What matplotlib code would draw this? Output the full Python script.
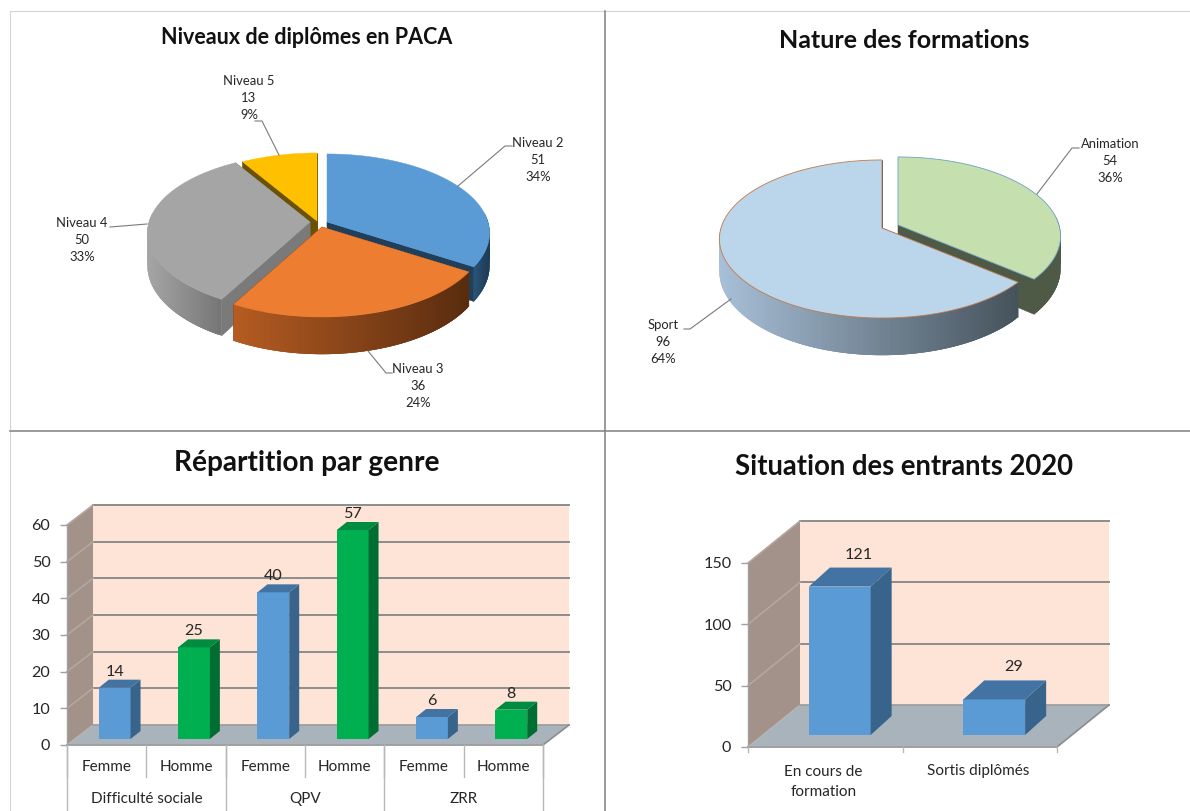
import numpy as np
import matplotlib
matplotlib.use("Agg")
import matplotlib.pyplot as plt
from matplotlib.patches import Polygon
from matplotlib.colors import to_rgb

plt.rcParams['font.family'] = ['Lato', 'DejaVu Sans']

# ---------- data ----------
pie1_labels = ["Niveau 2", "Niveau 3", "Niveau 4", "Niveau 5"]
pie1_values = [51, 36, 50, 13]
pie1_pcts = ["34%", "24%", "33%", "9%"]

pie2_labels = ["Animation", "Sport"]
pie2_values = [54, 96]
pie2_pcts = ["36%", "64%"]

genre_sub = ["Femme", "Homme", "Femme", "Homme", "Femme", "Homme"]
genre_groups = ["Difficulté sociale", "QPV", "ZRR"]
genre_values = [14, 25, 40, 57, 6, 8]

entrants_labels = ["En cours de\nformation", "Sortis diplômés"]
entrants_values = [121, 29]

W, H = 1190, 811
TXT = "#262626"
fig = plt.figure(figsize=(W / 100, H / 100), dpi=100, facecolor="white")
page = fig.add_axes([0, 0, 1, 1], zorder=1)
page.set_xlim(0, W)
page.set_ylim(H, 0)
page.axis("off")

# panel frame
page.plot([10, 1190], [11, 11], color="#d4d4d4", lw=0.8)
page.plot([10, 10], [11, 811], color="#d4d4d4", lw=0.8)
page.plot([605, 605], [11, 811], color="#7f7f7f", lw=1.1)
page.plot([10, 1190], [431, 431], color="#7f7f7f", lw=1.1)


def mix(c1, c2, t):
    a, b = np.array(to_rgb(c1)), np.array(to_rgb(c2))
    return tuple(a + (b - a) * t)


P, A, B, D = 0.139, 161.0, 77.5, 32.0


def proj(theta, r, apex, z=0.0):
    u, v = r * np.cos(theta), r * np.sin(theta)
    s = 1 / (1 + P * v)
    return np.column_stack([apex[0] + A * u * s,
                            apex[1] - B * v * s + z * s * np.ones_like(u)])


def draw_slice(start, end, apex, top, cut, wall, edge=None, z0=3):
    th = np.linspace(start, end, 160)          # clockwise, start > end
    rim = proj(th, 1.0, apex)
    low = proj(th, 1.0, apex, D)
    ap = np.array([apex], dtype=float)
    ap_low = ap + [0, D]
    # cut faces
    for i in (0, -1):
        page.add_patch(Polygon(np.vstack([ap, rim[i], low[i], ap_low]), closed=True,
                               fc=cut, ec=cut, lw=0.4, zorder=z0))
    # outer wall, shaded strip by strip; each strip overlaps the next to hide seams
    vis = np.where(np.sin(th) < 0.12)[0]
    if len(vis) > 1:
        xs = rim[vis, 0]
        x0, x1 = xs.min(), xs.max()
        for a_, i in enumerate(vis[:-1]):
            j = vis[min(a_ + 3, len(vis) - 1)]
            t = (rim[i, 0] - x0) / max(x1 - x0, 1)
            c = mix(wall[0], wall[1], t)
            page.add_patch(Polygon([rim[i], *rim[i + 1:j + 1], *low[i + 1:j + 1][::-1], low[i]],
                                   closed=True, fc=c, ec="none", lw=0, zorder=z0))
    page.add_patch(Polygon(np.vstack([ap, rim]), closed=True, fc=top,
                           ec=edge if edge else top, lw=0.6 if edge else 0.3, zorder=z0))


def slice_angles(values):
    f = np.cumsum([0] + list(values)) / sum(values)
    return np.pi / 2 - 2 * np.pi * f


def leader(pts):
    p = np.array(pts)
    page.plot(p[:, 0], p[:, 1], color="#7a7a7a", lw=0.8, zorder=8)


def pie_label(x, y, name, val, pct):
    page.text(x, y, f"{name}\n{val}\n{pct}", ha="center", va="center", fontsize=9.4,
              color=TXT, linespacing=1.5, zorder=9)


# ---------- pie 1 ----------
ang = slice_angles(pie1_values)
styles1 = [
    dict(apex=(327, 222), top="#5b9bd5", cut="#1f3f5b", wall=("#2a5578", "#1d3a55")),
    dict(apex=(322, 227), top="#ed7d31", cut="#5c2e10", wall=("#b65c22", "#592c0f")),
    dict(apex=(310, 222), top="#a5a5a5", cut="#7a7a7a", wall=("#a6a6a6", "#767676")),
    dict(apex=(317, 221), top="#ffc000", cut="#6b5100", wall=("#8a6800", "#6b5100")),
]
for k, z in zip([3, 0, 2, 1], [3, 4, 5, 6]):
    draw_slice(ang[k], ang[k + 1], z0=z, **styles1[k])

leader([(458, 186), (505, 146), (512, 146)])
leader([(368, 351), (386, 373), (392, 373)])
leader([(147, 224), (110, 227)])
leader([(279, 155), (262, 121), (255, 121)])
pos1 = [(538, 160), (418, 386), (82, 240), (249, 98)]
for (x, y), n, v, p in zip(pos1, pie1_labels, pie1_values, pie1_pcts):
    pie_label(x, y, n, v, p)

# ---------- pie 2 ----------
ang = slice_angles(pie2_values)
draw_slice(ang[0], ang[1], apex=(898, 225), top="#c5dfaf", cut="#4e5a45",
           wall=("#4e5a45", "#4e5a45"), edge="#6f9fc4", z0=3)
draw_slice(ang[1], ang[2], apex=(882, 228), top="#bbd5eb", cut="#4a5760",
           wall=("#a8c0d8", "#46535c"), edge="#c4794a", z0=4)
leader([(1037, 194), (1072, 148), (1079, 148)])
leader([(731, 299), (690, 329), (684, 329)])
pos2 = [(1110, 161), (663, 342)]
for (x, y), n, v, p in zip(pos2, pie2_labels, pie2_values, pie2_pcts):
    pie_label(x, y, n, v, p)


# ---------- 3-D bars ----------
def bar_panel(left, right, y0, ytop, ymax, ticks, values, colors, depth, off, bdepth, lab_dx, lab_dy):
    n = len(values)
    axb = fig.add_axes([left / W, 1 - y0 / H, (right - left) / W, (y0 - ytop) / H], zorder=2)
    axb.set_xlim(0, n)
    axb.set_ylim(0, ymax)
    axb.patch.set_alpha(0)
    for sp in axb.spines.values():
        sp.set_visible(False)
    px, py = n / (right - left), ymax / (y0 - ytop)
    dx, dy = depth[0] * px, depth[1] * py
    # walls and floor
    axb.add_patch(Polygon([(dx, dy), (n + dx, dy), (n + dx, ymax + dy), (dx, ymax + dy)],
                          fc="#fde4d6", ec="none", clip_on=False, zorder=1))
    axb.add_patch(Polygon([(0, 0), (dx, dy), (dx, ymax + dy), (0, ymax)],
                          fc="#a39289", ec="none", clip_on=False, zorder=1))
    axb.add_patch(Polygon([(0, 0), (n, 0), (n + dx, dy), (dx, dy)],
                          fc="#a8b3bb", ec="none", clip_on=False, zorder=1))
    for t in ticks:
        if t:
            axb.plot([dx, n + dx], [t + dy, t + dy], color="#8c8c8c", lw=1.4,
                     clip_on=False, zorder=2)
            axb.plot([0, dx], [t, t + dy], color="#b3a79f", lw=1.2, clip_on=False, zorder=2)
    axb.plot([0, dx], [0, dy], color="#b5b5b5", lw=1, clip_on=False, zorder=2)
    axb.plot([dx, n + dx], [dy, dy], color="#9a9a9a", lw=1.2, clip_on=False, zorder=2)
    axb.plot([n, n + dx], [0, dy], color="#8c8c8c", lw=1.2, clip_on=False, zorder=2)
    axb.plot([0, n], [0, 0], color="#a0a0a0", lw=1.4, clip_on=False, zorder=2)
    axb.plot([0, 0], [0, ymax], color="#a0a0a0", lw=1.0, clip_on=False, zorder=2)
    # bars
    ox, oy = off[0] * px, off[1] * py
    bx, by = bdepth[0] * px, bdepth[1] * py
    w = 0.4
    xs = np.arange(n) + 0.5 + ox
    for x, v, c in zip(xs, values, colors):
        front, side, cap = c
        axb.bar(x, v, w, bottom=oy, color=front, clip_on=False, zorder=4)
        r, l = x + w / 2, x - w / 2
        t, b = oy + v, oy
        axb.add_patch(Polygon([(r, b), (r + bx, b + by), (r + bx, t + by), (r, t)],
                              fc=side, ec="none", clip_on=False, zorder=4))
        axb.add_patch(Polygon([(l, t), (r, t), (r + bx, t + by), (l + bx, t + by)],
                              fc=cap, ec="none", clip_on=False, zorder=4))
        axb.text(x + lab_dx * px, t + by + lab_dy * py, str(v), ha="center", va="center",
                 fontsize=11.6, color=TXT, zorder=6)
    axb.set_yticks(ticks)
    axb.set_xticks([])
    axb.tick_params(axis="y", length=5, width=1, color="#a0a0a0", labelsize=11.6,
                    labelcolor=TXT, pad=7)
    return axb


BLUE = ("#5b9bd5", "#38638b", "#4273a2")
GREEN = ("#00b050", "#006e33", "#008c40")

ax3 = bar_panel(67, 543, 745, 525, 60, [0, 10, 20, 30, 40, 50, 60], genre_values,
                [BLUE, GREEN] * 3, (26, 20), (8, 6), (10, 8), 0, 8)
ax4 = bar_panel(748, 1057, 747, 563, 150, [0, 50, 100, 150], entrants_values,
                [BLUE, BLUE], (52, 42), (14.5, 12), (21, 19), 19, 13)

# multi-level axis for the gender panel
SEP = "#b8b8b8"
for i, lab in enumerate(genre_sub):
    ax3.text(i + 0.5, -22 / 3.667, lab, ha="center", va="center", fontsize=11, color=TXT,
             clip_on=False)
for i in range(7):
    ax3.plot([i, i], [0, -32 / 3.667], color=SEP, lw=1, clip_on=False)
for i, lab in enumerate(genre_groups):
    ax3.text(2 * i + 1, -54 / 3.667, lab, ha="center", va="center", fontsize=11, color=TXT,
             clip_on=False)
for i in range(0, 7, 2):
    ax3.plot([i, i], [0, -66 / 3.667], color=SEP, lw=1, clip_on=False)

# category axis of the entrants panel
ax4.text(0.5 - 2 / 154.5, -35 / 1.227, entrants_labels[0], ha="center", va="center", fontsize=11,
         color=TXT, linespacing=1.5, clip_on=False)
ax4.text(1.5 - 2 / 154.5, -24 / 1.227, entrants_labels[1], ha="center", va="center", fontsize=11,
         color=TXT, clip_on=False)
for i in range(3):
    ax4.plot([i, i], [0, -5 / 1.227], color=SEP, lw=1, clip_on=False)

# ---------- titles ----------
for x, y, t, fs in [(307, 37, "Niveaux de diplômes en PACA", 15.5),
                    (904, 40, "Nature des formations", 18.0),
                    (307, 463, "Répartition par genre", 20.2),
                    (904, 467, "Situation des entrants 2020", 19.8)]:
    page.text(x, y, t, ha="center", va="center", fontsize=fs, fontweight="bold",
              color="#111111", zorder=9)

fig.savefig("out.png", dpi=100, facecolor="white")
